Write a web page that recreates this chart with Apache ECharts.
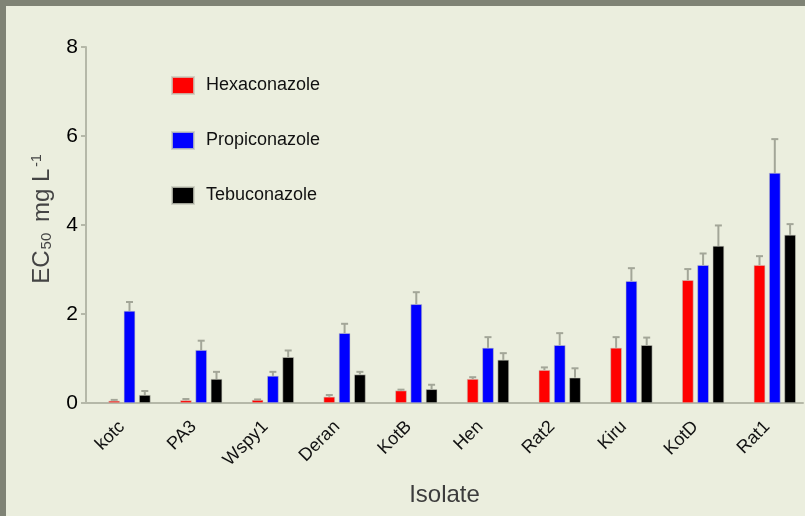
<!DOCTYPE html>
<html>
<head>
<meta charset="utf-8">
<script src="https://cdn.jsdelivr.net/npm/echarts@6/dist/echarts.min.js"></script>
<style>
  html, body { margin: 0; padding: 0; background: #ebeede; }
  #chart { width: 805px; height: 516px; }
</style>
</head>
<body>
<div id="chart"></div>
<script>
const isolates = ["kotc", "PA3", "Wspy1", "Deran", "KotB", "Hen", "Rat2", "Kiru", "KotD", "Rat1"];
const seriesNames = ["Hexaconazole", "Propiconazole", "Tebuconazole"];
const colors = ["#ff0000", "#0000ff", "#000000"];

const hexaconazole = [0.05, 0.06, 0.07, 0.14, 0.28, 0.54, 0.74, 1.24, 2.76, 3.10];
const propiconazole = [2.07, 1.19, 0.61, 1.57, 2.22, 1.24, 1.30, 2.74, 3.10, 5.17];
const tebuconazole = [0.18, 0.54, 1.03, 0.64, 0.31, 0.97, 0.57, 1.30, 3.53, 3.78];

const hexaconazoleErr = [0.02, 0.03, 0.01, 0.04, 0.02, 0.04, 0.06, 0.24, 0.25, 0.20];
const propiconazoleErr = [0.20, 0.21, 0.09, 0.21, 0.27, 0.24, 0.27, 0.29, 0.26, 0.76];
const tebuconazoleErr = [0.09, 0.16, 0.15, 0.06, 0.10, 0.15, 0.21, 0.17, 0.46, 0.24];

const yTicks = [0, 2, 4, 6, 8];

const means = [hexaconazole, propiconazole, tebuconazole];
const errs = [hexaconazoleErr, propiconazoleErr, tebuconazoleErr];

const barWidth = 11.5;
const barGapRatio = 0.33;
const slot = barWidth * (1 + barGapRatio);

const chart = echarts.init(document.getElementById("chart"));

const series = [
  // empty slot on the left so the three bars sit right of the tick, as in the original
  { name: "_pad", type: "bar", data: [], barWidth: barWidth, barGap: "33%" }
];

seriesNames.forEach((name, i) => {
  series.push({
    name: name,
    type: "bar",
    data: means[i],
    barWidth: barWidth,
    barGap: "33%",
    itemStyle: { color: colors[i], borderColor: "rgba(200,202,188,0.8)", borderWidth: 0.7 },
    z: 2
  });
});

seriesNames.forEach((name, i) => {
  const offset = (i + 1 - 1.5) * slot;
  series.push({
    type: "custom",
    name: name + " err",
    data: means[i].map((v, k) => [k, v, v + errs[i][k]]),
    z: 3,
    silent: true,
    renderItem: (params, api) => {
      const base = api.coord([api.value(0), api.value(1)]);
      const top = api.coord([api.value(0), api.value(2)]);
      const x = base[0] + offset;
      const style = { stroke: "#a3a698", lineWidth: 2 };
      return {
        type: "group",
        children: [
          { type: "line", shape: { x1: x, y1: base[1], x2: x, y2: top[1] }, style: style },
          { type: "line", shape: { x1: x - 3.5, y1: top[1], x2: x + 3.5, y2: top[1] }, style: style }
        ]
      };
    }
  });
});

chart.setOption({
  backgroundColor: "#ebeede",
  animation: false,
  textStyle: { fontFamily: "Liberation Sans, Arial, sans-serif" },
  graphic: [
    { type: "rect", shape: { x: 0, y: 0, width: 805, height: 6 }, style: { fill: "#7f8375" } },
    { type: "rect", shape: { x: 0, y: 0, width: 6, height: 516 }, style: { fill: "#7f8375" } }
  ],
  legend: {
    data: seriesNames,
    orient: "vertical",
    left: 166,
    top: 71,
    icon: "rect",
    itemWidth: 22,
    itemHeight: 17,
    itemGap: 36,
    textStyle: { fontSize: 18, color: "#111", padding: [0, 0, 0, 7] }
  },
  grid: { left: 86, right: 2, top: 47, bottom: 113 },
  xAxis: {
    type: "category",
    data: isolates,
    name: "Isolate",
    nameLocation: "middle",
    nameGap: 80,
    nameTextStyle: { fontSize: 24, color: "#3c3c3c" },
    axisLine: { lineStyle: { color: "#b5b8a8", width: 2 } },
    axisTick: { alignWithLabel: true, length: 5, lineStyle: { color: "#b5b8a8", width: 2 } },
    axisLabel: { rotate: 45, fontSize: 18, color: "#111", margin: 21, interval: 0 }
  },
  yAxis: {
    type: "value",
    min: yTicks[0],
    max: yTicks[yTicks.length - 1],
    interval: 2,
    name: "{a|EC}{b|50}{a| mg L}{c|-1}",
    nameLocation: "middle",
    nameRotate: 90,
    nameGap: 32,
    nameTextStyle: {
      padding: [0, 0, 0, 12],
      rich: {
        a: { fontSize: 24, color: "#444", fontFamily: "Liberation Sans" },
        b: { fontSize: 15, color: "#444", verticalAlign: "bottom", padding: [0, 4, 0, 1], fontFamily: "Liberation Sans" },
        c: { fontSize: 14, color: "#444", verticalAlign: "top", padding: [0, 0, 0, 2], fontFamily: "Liberation Sans" }
      }
    },
    axisLine: { show: true, lineStyle: { color: "#b5b8a8", width: 2 } },
    axisTick: { show: true, length: 5, lineStyle: { color: "#b5b8a8", width: 2 } },
    axisLabel: { fontSize: 21, color: "#000", margin: 8 },
    splitLine: { show: false }
  },
  series: series
});
</script>
</body>
</html>
